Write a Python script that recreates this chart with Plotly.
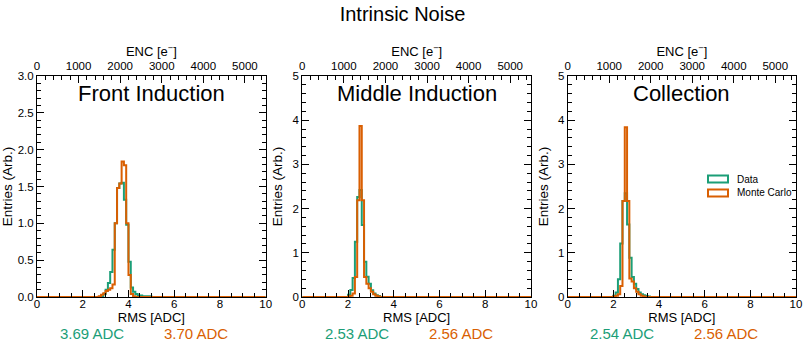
"""
Intrinsic noise: RMS distributions, Data vs Monte Carlo
"""

import numpy as np
import plotly.graph_objects as go

# ---------------- data (density per 0.1 ADC bin) ----------------
BIN_WIDTH = 0.1
PANELS = ['Front Induction', 'Middle Induction', 'Collection']

front_data_start = 2.9
front_data = [0.04, 0.10, 0.19, 0.34, 0.64, 1.00, 1.48, 1.54, 1.55, 1.32, 0.98,
              0.48, 0.13, 0.07, 0.04, 0.02, 0.02, 0.01, 0.01, 0.01, 0.01]
front_mc_start = 2.7
front_mc = [0.01, 0.03, 0.05, 0.08, 0.10, 0.12, 0.17, 1.00, 1.48, 1.54, 1.84,
            1.79, 1.00, 0.30, 0.04, 0.01]

middle_data_start = 2.0
middle_data = [0.05, 0.16, 0.43, 1.25, 2.26, 2.42, 1.63, 0.80, 0.46, 0.30, 0.15,
               0.08, 0.04, 0.02]
middle_mc_start = 2.0
middle_mc = [0.01, 0.03, 0.08, 0.45, 2.19, 3.87, 2.19, 0.45, 0.30, 0.20, 0.12,
             0.06, 0.03, 0.01]

collection_data_start = 2.0
collection_data = [0.03, 0.10, 0.40, 1.21, 2.17, 2.35, 1.64, 0.89, 0.45, 0.30,
                   0.18, 0.10, 0.06, 0.04, 0.02, 0.01]
collection_mc_start = 2.0
collection_mc = [0.01, 0.03, 0.06, 0.25, 2.17, 3.84, 2.17, 0.42, 0.35, 0.20,
                 0.12, 0.06, 0.03, 0.01]

data_means = ['3.69 ADC', '2.53 ADC', '2.54 ADC']
mc_means = ['3.70 ADC', '2.56 ADC', '2.56 ADC']
y_max = [3.0, 5, 5]
y_dtick = [0.5, 1, 1]
y_minor = [0.1, 0.2, 0.2]
y_format = ['.1f', 'd', 'd']
enc_max = 5500  # top axis, electrons for 10 ADC

GREEN = '#1b9e77'
ORANGE = '#d95f02'
FONT = 'Liberation Sans, Arial, sans-serif'

W, H = 805, 345
X_DOMAINS = [[37 / W, 265.7 / W], [302.3 / W, 531 / W], [567.7 / W, 796 / W]]
Y_DOMAIN = [(H - 297) / H, (H - 76) / H]


def step_xy(start, values):
    """full 0-10 histogram as a closed step outline"""
    edges = np.round(np.arange(0, 10 + BIN_WIDTH / 2, BIN_WIDTH), 3)
    counts = np.zeros(len(edges) - 1)
    i0 = int(round(start / BIN_WIDTH))
    counts[i0:i0 + len(values)] = values
    x = np.concatenate([[edges[0]], edges])
    y = np.concatenate([[0], counts, [0]])
    return x, y


series = [
    ((front_data_start, front_data), (front_mc_start, front_mc)),
    ((middle_data_start, middle_data), (middle_mc_start, middle_mc)),
    ((collection_data_start, collection_data), (collection_mc_start, collection_mc)),
]

fig = go.Figure()
annotations = []
shapes = []

for i, (d, mc) in enumerate(series):
    xa = 'x' if i == 0 else f'x{i + 1}'
    ya = 'y' if i == 0 else f'y{i + 1}'
    for (start, vals), color in ((d, GREEN), (mc, ORANGE)):
        x, y = step_xy(start, vals)
        fig.add_trace(go.Scatter(
            x=x, y=y, mode='lines', line=dict(color=color, width=2, shape='hv'),
            xaxis=xa, yaxis=ya, showlegend=False, hoverinfo='skip'))
    # dummy trace so the ENC axis gets drawn
    fig.add_trace(go.Scatter(x=[None], y=[None], xaxis=f'x{i + 4}', yaxis=ya,
                             showlegend=False, hoverinfo='skip'))

    dom = X_DOMAINS[i]
    suffix = '' if i == 0 else str(i + 1)
    axis_common = dict(showgrid=False, zeroline=False, showline=True,
                       linecolor='black', linewidth=1, ticks='inside',
                       tickcolor='black', ticklen=7, automargin=False,
                       tickfont=dict(size=11.5, color='black'))
    fig.layout[f'xaxis{suffix}'] = dict(
        axis_common, domain=dom, anchor=ya, range=[0, 10], dtick=2, tick0=0,
        ticklabelstandoff=-4,
        minor=dict(dtick=0.5, ticks='inside', ticklen=4, tickcolor='black'),
        title=dict(text='RMS [ADC]', font=dict(size=13), standoff=1))
    fig.layout[f'yaxis{suffix}'] = dict(
        axis_common, domain=Y_DOMAIN, anchor=xa, range=[0, y_max[i]],
        dtick=y_dtick[i], tick0=0, tickformat=y_format[i], mirror='ticks',
        minor=dict(dtick=y_minor[i], ticks='inside', ticklen=4, tickcolor='black'),
        title=dict(text='Entries (Arb.)', font=dict(size=13.5), standoff=6))
    fig.layout[f'xaxis{i + 4}'] = dict(
        axis_common, overlaying=xa, anchor=ya, side='top', range=[0, enc_max],
        dtick=1000, tick0=0,
        minor=dict(dtick=200, ticks='inside', ticklen=4, tickcolor='black'),
        title=dict(text='ENC [e<sup>−</sup>]', font=dict(size=13), standoff=0))

    w = dom[1] - dom[0]
    annotations.append(dict(
        text=PANELS[i], x=(dom[0] + dom[1]) / 2, y=(H - 93) / H,
        xref='paper', yref='paper', xanchor='center', yanchor='middle',
        showarrow=False, font=dict(size=22)))
    annotations.append(dict(
        text=data_means[i], x=dom[0] + 0.24 * w, y=(H - 333.5) / H,
        xref='paper', yref='paper', xanchor='center', yanchor='middle',
        showarrow=False, font=dict(size=15, color=GREEN)))
    annotations.append(dict(
        text=mc_means[i], x=dom[0] + 0.695 * w, y=(H - 333.5) / H,
        xref='paper', yref='paper', xanchor='center', yanchor='middle',
        showarrow=False, font=dict(size=15, color=ORANGE)))

# legend drawn by hand (hollow boxes) in the Collection panel
for row, (label, color) in enumerate((('Data', GREEN), ('Monte Carlo', ORANGE))):
    y0 = 175.5 + row * 14
    shapes.append(dict(type='rect', xref='paper', yref='paper',
                       x0=708 / W, x1=728 / W, y0=(H - y0 - 7) / H, y1=(H - y0) / H,
                       line=dict(color=color, width=2), fillcolor='rgba(0,0,0,0)'))
    annotations.append(dict(text=label, x=735 / W, y=(H - y0 - 3.5) / H,
                            xref='paper', yref='paper', xanchor='left',
                            yanchor='middle', showarrow=False,
                            font=dict(size=10)))

fig.update_layout(
    width=W, height=H,
    margin=dict(l=0, r=0, t=0, b=0),
    paper_bgcolor='white', plot_bgcolor='white',
    font=dict(family=FONT, color='black'),
    title=dict(text='Intrinsic Noise', x=0.5, xanchor='center',
               y=1 - 14 / H, yanchor='middle', font=dict(size=20)),
    annotations=annotations, shapes=shapes,
    showlegend=False,
)

# page body has an 8px default margin; drop it so the figure fills the window
fig.write_html("out.html", config={'displayModeBar': False},
               post_script="document.body.style.margin='0';")
